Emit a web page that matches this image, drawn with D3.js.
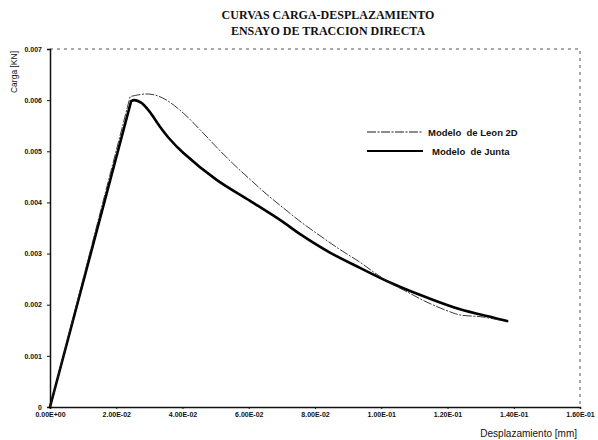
<!DOCTYPE html>
<html>
<head>
<meta charset="utf-8">
<script src="https://cdn.jsdelivr.net/npm/d3@7"></script>
<style>
  body { margin: 0; background: #fff; }
  svg { display: block; }
</style>
</head>
<body>
<svg></svg>
<script>
// Data
const xTicks = [0, 0.02, 0.04, 0.06, 0.08, 0.10, 0.12, 0.14, 0.16]
const xTickLabels = ['0.00E+00', '2.00E-02', '4.00E-02', '6.00E-02', '8.00E-02', '1.00E-01', '1.20E-01', '1.40E-01', '1.60E-01']
const yTicks = [0, 0.001, 0.002, 0.003, 0.004, 0.005, 0.006, 0.007]
const yTickLabels = ['0', '0.001', '0.002', '0.003', '0.004', '0.005', '0.006', '0.007']

// first point of each series is the origin, the rise up to the peak is straight
const leonX = [0, 0.0242, 0.0287, 0.0317, 0.0352, 0.0402, 0.0453, 0.0503, 0.0552, 0.0604, 0.0654, 0.0703, 0.0755, 0.0815, 0.0875, 0.0936, 0.0981, 0.1026, 0.1087, 0.1138, 0.1208, 0.1238, 0.1307, 0.1358]
const leonY = [0, 0.00607, 0.00612, 0.00610, 0.00600, 0.00575, 0.00542, 0.00508, 0.00476, 0.00445, 0.00416, 0.00390, 0.00363, 0.00335, 0.00308, 0.00283, 0.00262, 0.00243, 0.00222, 0.00205, 0.00186, 0.00180, 0.00176, 0.00170]

const juntaX = [0, 0.0245, 0.0255, 0.0275, 0.0300, 0.0330, 0.0360, 0.0402, 0.0503, 0.0604, 0.0703, 0.0755, 0.0845, 0.0936, 0.1035, 0.1138, 0.1238, 0.1337, 0.1380]
const juntaY = [0, 0.00598, 0.00600, 0.00595, 0.00578, 0.00550, 0.00525, 0.00497, 0.00444, 0.00403, 0.00362, 0.00338, 0.00302, 0.00272, 0.00241, 0.00214, 0.00191, 0.00175, 0.00168]

const seriesNames = ['Modelo  de Leon 2D', 'Modelo  de Junta']

// Layout
const width = 598
const height = 440
const margin = { left: 50, right: 18, top: 49, bottom: 33 }

const svg = d3.select('svg').attr('width', width).attr('height', height)

const x = d3.scaleLinear().domain([0, 0.16]).range([margin.left, width - margin.right])
const y = d3.scaleLinear().domain([0, 0.007]).range([height - margin.bottom, margin.top])

const sans = 'Liberation Sans, Arial, sans-serif'

// Title
const title = svg.append('g')
  .attr('font-family', 'Liberation Serif, Times New Roman, serif')
  .attr('font-weight', 'bold')
  .attr('font-size', 12)
  .attr('text-anchor', 'middle')
  .attr('fill', '#111')
title.append('text').attr('x', 328).attr('y', 19).text('CURVAS CARGA-DESPLAZAMIENTO')
title.append('text').attr('x', 328).attr('y', 35).text('ENSAYO DE TRACCION DIRECTA')

// Dotted frame (top and right)
svg.append('path')
  .attr('d', `M${x(0)},${y(0.007)}H${x(0.16)}V${y(0)}`)
  .attr('fill', 'none')
  .attr('stroke', '#555')
  .attr('stroke-width', 1)
  .attr('stroke-dasharray', '3,4')

// Axes
const xAxis = svg.append('g')
  .attr('transform', `translate(0,${y(0)})`)
  .call(d3.axisBottom(x).tickValues(xTicks).tickSize(2).tickFormat((d, i) => xTickLabels[i]))
const yAxis = svg.append('g')
  .attr('transform', `translate(${x(0)},0)`)
  .call(d3.axisLeft(y).tickValues(yTicks).tickSize(3).tickFormat((d, i) => yTickLabels[i]))

;[xAxis, yAxis].forEach((g) => {
  g.select('.domain').attr('stroke', '#111').attr('stroke-width', 1.5)
  g.selectAll('.tick line').attr('stroke', '#111')
  g.selectAll('.tick text')
    .attr('font-family', sans)
    .attr('font-weight', 'bold')
    .attr('font-size', 7)
    .attr('fill', '#111')
})
yAxis.selectAll('.tick text').attr('x', -8)

// Axis titles
svg.append('text')
  .attr('transform', 'translate(17,72) rotate(-90)')
  .attr('text-anchor', 'middle')
  .attr('font-family', sans)
  .attr('font-size', 8.5)
  .attr('fill', '#111')
  .text('Carga [KN]')
svg.append('text')
  .attr('x', 577)
  .attr('y', 437)
  .attr('text-anchor', 'end')
  .attr('font-family', sans)
  .attr('font-size', 10)
  .attr('fill', '#111')
  .text('Desplazamiento [mm]')

// Curves: straight elastic rise, smooth softening branch
const rise = d3.line().x((d) => x(d[0])).y((d) => y(d[1]))
const soft = d3.line().x((d) => x(d[0])).y((d) => y(d[1])).curve(d3.curveCatmullRom.alpha(0.5))

const leon = leonX.map((v, i) => [v, leonY[i]])
const junta = juntaX.map((v, i) => [v, juntaY[i]])

function curvePath(pts) {
  return rise(pts.slice(0, 2)) + soft(pts.slice(1)).replace(/^M/, 'L')
}

svg.append('path')
  .attr('d', curvePath(junta))
  .attr('fill', 'none')
  .attr('stroke', '#000')
  .attr('stroke-width', 2.6)
  .attr('stroke-linejoin', 'round')
  .attr('stroke-linecap', 'round')

svg.append('path')
  .attr('d', curvePath(leon))
  .attr('fill', 'none')
  .attr('stroke', '#222')
  .attr('stroke-width', 0.9)
  .attr('stroke-dasharray', '9,1.5,2,1.5')

// Legend
const legend = svg.append('g')
const legendRows = [
  { name: seriesNames[0], y: 132, width: 0.9, dash: '9,1.5,2,1.5', tx: 428 },
  { name: seriesNames[1], y: 151, width: 2.2, dash: null, tx: 432 },
]
legendRows.forEach((r) => {
  legend.append('line')
    .attr('x1', 367).attr('x2', 423)
    .attr('y1', r.y).attr('y2', r.y)
    .attr('stroke', '#000')
    .attr('stroke-width', r.width)
    .attr('stroke-dasharray', r.dash)
  legend.append('text')
    .attr('x', r.tx)
    .attr('y', r.y + 3.5)
    .attr('font-family', sans)
    .attr('font-weight', 'bold')
    .attr('font-size', 9.5)
    .attr('fill', '#111')
    .style('white-space', 'pre')
    .text(r.name)
})
</script>
</body>
</html>
